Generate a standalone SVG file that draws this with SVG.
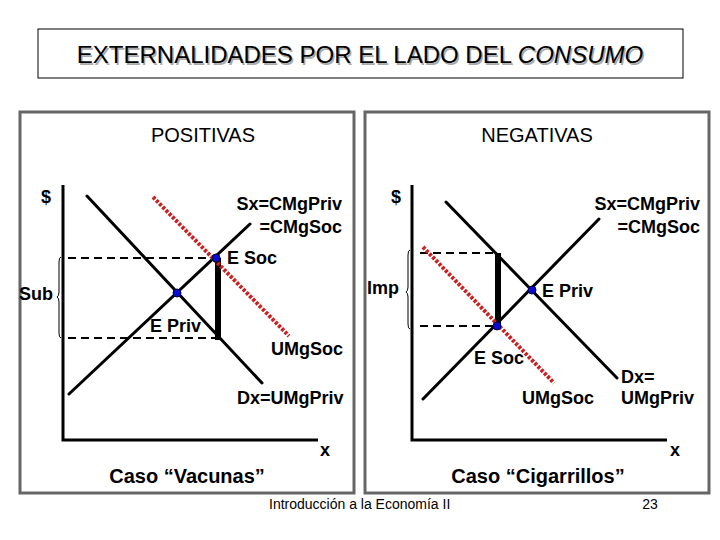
<svg xmlns="http://www.w3.org/2000/svg" width="720" height="540" viewBox="0 0 720 540">
<style>
text{font-family:"Liberation Sans",Arial,sans-serif;fill:#000}
.b{font-weight:bold;font-size:18px}
.h{font-size:20px}
.cap{font-weight:bold;font-size:20px}
.ax{stroke:#000;stroke-width:3;fill:none}
.ln{stroke:#000;stroke-width:3;fill:none;stroke-linecap:round}
.red{stroke:#cc1f1f;stroke-width:4;fill:none;stroke-dasharray:3 1.6}
.dash{stroke:#000;stroke-width:2;fill:none;stroke-dasharray:8 5}
.thick{stroke:#000;stroke-width:6;fill:none}
.brace{stroke:#000;stroke-width:1;fill:none}
.dot{fill:#0a0ad0;stroke:#000040;stroke-width:1}
.panel{fill:#fff;stroke:#666;stroke-width:3}
</style>
<rect width="720" height="540" fill="#fff"/>
<g id="title">
<rect x="38" y="29" width="645" height="49" fill="#fff" stroke="#000" stroke-width="1"/>
<text x="361.5" y="64.5" font-size="24" text-anchor="middle" style="fill:#aaa">EXTERNALIDADES POR EL LADO DEL <tspan font-style="italic">CONSUMO</tspan></text>
<text x="360" y="63" font-size="24" text-anchor="middle">EXTERNALIDADES POR EL LADO DEL <tspan font-style="italic">CONSUMO</tspan></text>
</g>
<g id="panel-pos">
<rect class="panel" x="20" y="112" width="334" height="381"/>
<text class="h" x="203" y="142" text-anchor="middle">POSITIVAS</text>
</g>
<g id="panel-neg">
<rect class="panel" x="365" y="112" width="344" height="381"/>
<text class="h" x="537" y="142" text-anchor="middle">NEGATIVAS</text>
</g>
<g id="connectors">
<polyline class="ax" points="63,185 63,440 318,440"/>
<line class="dash" x1="68" y1="258" x2="214" y2="258"/>
<line class="dash" x1="68" y1="338" x2="218" y2="338"/>
<line class="thick" x1="218" y1="258" x2="218" y2="340"/>
<line class="ln" x1="87" y1="196" x2="262" y2="383"/>
<line class="ln" x1="69" y1="394" x2="250" y2="224"/>
<line class="red" x1="153" y1="197" x2="289" y2="336"/>
<path class="brace" d="M61,257 Q59,257 59,262 L59,292 Q59,296 57,297 Q59,298 59,302 L59,333 Q59,338 61,338"/>
<polyline class="ax" points="412,185 412,440 667,440"/>
<line class="dash" x1="420" y1="253" x2="496" y2="253"/>
<line class="dash" x1="420" y1="326" x2="494" y2="326"/>
<line class="thick" x1="498" y1="253" x2="498" y2="326"/>
<line class="ln" x1="446" y1="202" x2="617" y2="378"/>
<line class="ln" x1="423" y1="399" x2="599" y2="219"/>
<line class="red" x1="423" y1="247" x2="554" y2="383"/>
<path class="brace" d="M410,250 Q408,250 408,255 L408,287 Q408,291 406,292 Q408,293 408,297 L408,324 Q408,329 410,329"/>
</g>
<g id="dots">
<circle class="dot" cx="177" cy="293" r="4"/>
<circle class="dot" cx="216" cy="258" r="4"/>
<circle class="dot" cx="532" cy="290" r="4"/>
<circle class="dot" cx="497" cy="326" r="4"/>
</g>
<g id="labels-pos">
<text class="b" x="46" y="203" text-anchor="middle">$</text>
<text class="b" x="342" y="210" text-anchor="end">Sx=CMgPriv</text>
<text class="b" x="342" y="233" text-anchor="end">=CMgSoc</text>
<text class="b" x="227" y="264">E Soc</text>
<text class="b" x="19" y="300">Sub</text>
<text class="b" x="150" y="332">E Priv</text>
<text class="b" x="271" y="355">UMgSoc</text>
<text class="b" x="237" y="404">Dx=UMgPriv</text>
<text class="b" x="320" y="456">x</text>
<text class="cap" x="187" y="483" text-anchor="middle">Caso “Vacunas”</text>
</g>
<g id="labels-neg">
<text class="b" x="396" y="203" text-anchor="middle">$</text>
<text class="b" x="700" y="210" text-anchor="end">Sx=CMgPriv</text>
<text class="b" x="700" y="233" text-anchor="end">=CMgSoc</text>
<text class="b" x="367" y="294">Imp</text>
<text class="b" x="542" y="297">E Priv</text>
<text class="b" x="474" y="364">E Soc</text>
<text class="b" x="522" y="404">UMgSoc</text>
<text class="b" x="621" y="383">Dx=</text>
<text class="b" x="621" y="404">UMgPriv</text>
<text class="b" x="670" y="456">x</text>
<text class="cap" x="538" y="483" text-anchor="middle">Caso “Cigarrillos”</text>
</g>
<g id="footer">
<text x="269" y="509" font-size="14">Introducción a la Economía II</text>
<text x="650" y="509" font-size="14" text-anchor="middle">23</text>
</g>
</svg>
